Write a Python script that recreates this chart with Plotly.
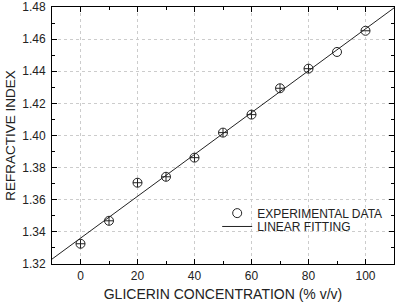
import numpy as np
import plotly.graph_objects as go

conc = [0, 10, 20, 30, 40, 50, 60, 70, 80, 90, 100]
n_exp = [1.3326, 1.3469, 1.3706, 1.3743, 1.3862, 1.4018, 1.4130, 1.4294, 1.4416, 1.4520, 1.4652]
err_x = [1.6, 1.6, 1.6, 1.6, 1.6, 1.6, 1.6, 1.6, 1.6, 0, 1.6]
err_y = [0.0027, 0.0027, 0.0027, 0.0027, 0.0027, 0.0027, 0.0027, 0.0027, 0.0027, 0, 0]
fit_x = [-10, 110]

slope, intercept = np.polyfit(conc, n_exp, 1)
fit_y = [slope * x + intercept for x in fit_x]

font = "Liberation Sans, Arial, sans-serif"
ink = "#222222"

fig = go.Figure()
fig.add_trace(go.Scatter(
    x=conc, y=n_exp, mode="markers", name="EXPERIMENTAL DATA", legend="legend",
    marker=dict(symbol="circle-open", size=9, color=ink, line=dict(width=1)),
    error_x=dict(type="data", array=err_x, color=ink, thickness=1, width=0),
    error_y=dict(type="data", array=err_y, color=ink, thickness=1, width=0)))
fig.add_trace(go.Scatter(
    x=fit_x, y=fit_y, mode="lines", name="LINEAR FITTING", legend="legend2",
    line=dict(color=ink, width=1)))

axis_common = dict(
    showline=True, linecolor="black", linewidth=1, mirror="ticks",
    ticks="inside", ticklen=5, tickcolor="black",
    showgrid=True, gridcolor="#cccccc", griddash="dot", gridwidth=1,
    zeroline=False, tickfont=dict(family=font, size=12, color=ink),
    automargin=False,
)

fig.update_xaxes(range=[-10, 110], tickvals=[0, 20, 40, 60, 80, 100],
                 minor=dict(ticks="inside", ticklen=3, dtick=10, tick0=0, tickcolor="black", showgrid=False),
                 title=dict(text="GLICERIN CONCENTRATION (% v/v)", font=dict(family=font, size=14, color=ink), standoff=11),
                 ticklabelstandoff=1,
                 **axis_common)
fig.update_yaxes(range=[1.32, 1.48], dtick=0.02, tickformat=".2f",
                 minor=dict(ticks="inside", ticklen=3, dtick=0.01, tick0=1.32, tickcolor="black", showgrid=False),
                 title=dict(text="REFRACTIVE INDEX", font=dict(family=font, size=13.5, color=ink), standoff=3),
                 ticklabelstandoff=3,
                 **axis_common)

leg_common = dict(xanchor="left", yanchor="middle", bgcolor="rgba(0,0,0,0)",
                  font=dict(family=font, size=12, color=ink), itemwidth=30)
fig.update_layout(
    width=397, height=302,
    margin=dict(l=52, r=3, t=7, b=38),
    paper_bgcolor="white", plot_bgcolor="white",
    font=dict(family=font, size=12, color=ink),
    showlegend=True,
    legend=dict(x=0.483, y=0.198, **leg_common),
    legend2=dict(x=0.483, y=0.146, **leg_common),
)

fig.write_html("out.html")
